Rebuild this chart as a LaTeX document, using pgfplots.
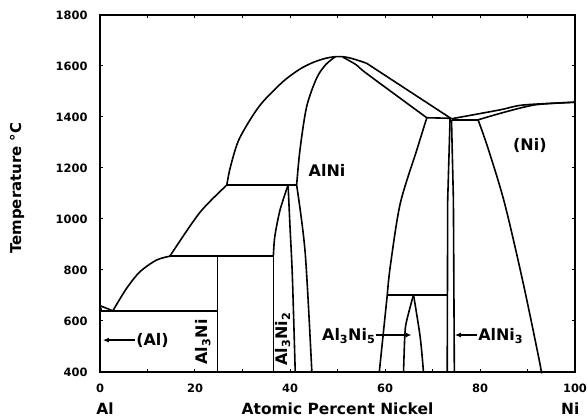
\documentclass[border=0pt]{standalone}
\usepackage{fontspec}
\setmainfont{DejaVu Sans}
\usepackage{pgfplots}
\pgfplotsset{compat=1.18}
\usetikzlibrary{arrows.meta}
\begin{document}
\begin{tikzpicture}
\tikzset{pl/.style={black, solid, line width=1.6bp, mark=none},
         sm/.style={pl, smooth, tension=0.5}}
\begin{axis}[
  scale only axis, width=475bp, height=357bp,
  xmin=0, xmax=100, ymin=400, ymax=1800,
  xtick={0,20,...,100}, ytick={400,600,...,1800},
  minor x tick num=1, minor y tick num=0,
  tick align=inside, major tick length=3.5bp, minor tick length=3bp,
  axis line style={line width=1.8bp},
  every tick/.style={black, line width=1bp},
  tick label style={font=\fontsize{11.5}{12}\selectfont\bfseries},
  xticklabel style={yshift=-8bp},
  yticklabel style={xshift=-9bp},
  /pgf/number format/assume math mode=true,
  /pgf/number format/1000 sep={},
  clip=false,
]
% liquidus (Al side)
\addplot[pl] coordinates {(0,660) (2.7,640)};
\addplot[pl] coordinates {(0,660) (0.3,640)};
\addplot[sm] coordinates {(2.7,640) (5.6,728) (8.4,793) (11.9,839) (14.7,854)};
\addplot[sm] coordinates {(14.7,854) (21,1025) (26.7,1133)};
\addplot[sm] coordinates {(26.7,1133) (27.4,1200) (29.1,1305) (31.9,1398) (34.4,1462) (38.6,1540) (42.1,1588) (45,1615) (47.7,1631) (50,1637) (52,1634) (54,1624) (56.1,1611)};
\addplot[pl] coordinates {(56.1,1611) (74,1393)};
% horizontals
\addplot[pl] coordinates {(0,640) (24.7,640)};
\addplot[pl] coordinates {(14.7,854) (36.5,854)};
\addplot[pl] coordinates {(26.7,1133) (41.4,1133)};
\addplot[pl] coordinates {(68.8,1397) (73.8,1395)};
\addplot[pl] coordinates {(60.5,703) (73.1,703)};
\addplot[pl] coordinates {(74,1389) (79.6,1389)};
% Al3Ni
\addplot[pl] coordinates {(24.7,400) (24.7,854)};
% Al3Ni2
\addplot[pl] coordinates {(36.5,400) (36.5,854)};
\addplot[sm] coordinates {(36.5,854) (36.8,931) (37.9,1035) (39.6,1133)};
\addplot[sm] coordinates {(39.6,1133) (40,970) (40.5,774) (41.1,400)};
% AlNi left
\addplot[sm] coordinates {(49.5,1636) (47.5,1605) (45.6,1552) (43.5,1440) (42.1,1271) (41.4,1133)};
\addplot[sm] coordinates {(41.4,1133) (43.2,867) (44.6,400)};
% AlNi right solidus and solvus
\addplot[sm] coordinates {(51.2,1634) (54,1604) (56.1,1571) (68.8,1397)};
\addplot[sm] coordinates {(68.8,1397) (66.7,1271) (63.2,1060) (61.1,813) (60.5,706)};
\addplot[pl] coordinates {(60.5,706) (58.8,400)};
% Al3Ni5
\addplot[sm] coordinates {(63.9,400) (64.2,553) (64.6,604) (66,703)};
\addplot[sm] coordinates {(66,703) (67.4,538) (68.1,400)};
% AlNi3
\addplot[pl] coordinates {(73.7,1395) (73.2,1075) (73.1,400)};
\addplot[pl] coordinates {(74,1390) (74.4,1075) (74.6,400)};
% Ni side
\addplot[sm] coordinates {(74,1393) (84.2,1428) (89.1,1447) (100,1458)};
\addplot[sm] coordinates {(79.6,1389) (84.2,1414) (89.1,1438) (92.6,1450) (100,1458)};
\addplot[sm] coordinates {(79.6,1389) (81.8,1271) (85.2,1060) (89.1,748) (92.6,434) (92.8,400)};
% labels
\tikzset{lab/.style={font=\fontsize{16}{16}\selectfont\bfseries, inner sep=0pt}}
\node[lab] at (axis cs:47.8,1190) {AlNi};
\node[lab] at (axis cs:90.5,1290) {(Ni)};
\node[lab, anchor=west] at (axis cs:7.6,525) {(Al)};
\draw[line width=1.5bp, -{Latex[length=6bp,width=5bp]}] (axis cs:7.3,525) -- (axis cs:0.6,525);
\node[lab, rotate=90] at (axis cs:21.7,518) {Al\textsubscript{3}Ni};
\node[lab, rotate=90] at (axis cs:38.5,530) {Al\textsubscript{3}Ni\textsubscript{2}};
\node[lab, anchor=east] at (axis cs:58,540) {Al\textsubscript{3}Ni\textsubscript{5}};
\draw[line width=1.5bp, -{Latex[length=6bp,width=5bp]}] (axis cs:58,545) -- (axis cs:65.6,545);
\node[lab, anchor=west] at (axis cs:79.6,540) {AlNi\textsubscript{3}};
\draw[line width=1.5bp, -{Latex[length=6bp,width=5bp]}] (axis cs:79.4,545) -- (axis cs:74.7,545);
% axis labels
\tikzset{alab/.style={font=\fontsize{15.5}{15.5}\selectfont\bfseries, inner sep=0pt, anchor=base}}
\node[alab] at ([yshift=-42bp]axis description cs:0.5,0) {Atomic Percent Nickel};
\node[alab] at ([yshift=-42bp]axis description cs:0.0105,0) {Al};
\node[alab] at ([yshift=-42bp]axis description cs:0.99,0) {Ni};
\node[font=\fontsize{15}{15}\selectfont\bfseries, rotate=90] at ([xshift=-83bp]axis description cs:0,0.515) {Temperature °C};
\coordinate (bl) at (axis description cs:0,0);
\coordinate (tr) at (axis description cs:1,1);
\end{axis}
\pgfresetboundingbox
\useasboundingbox ([xshift=-100bp,yshift=-47bp]bl) rectangle ([xshift=13bp,yshift=15bp]tr);
\end{tikzpicture}
\end{document}
